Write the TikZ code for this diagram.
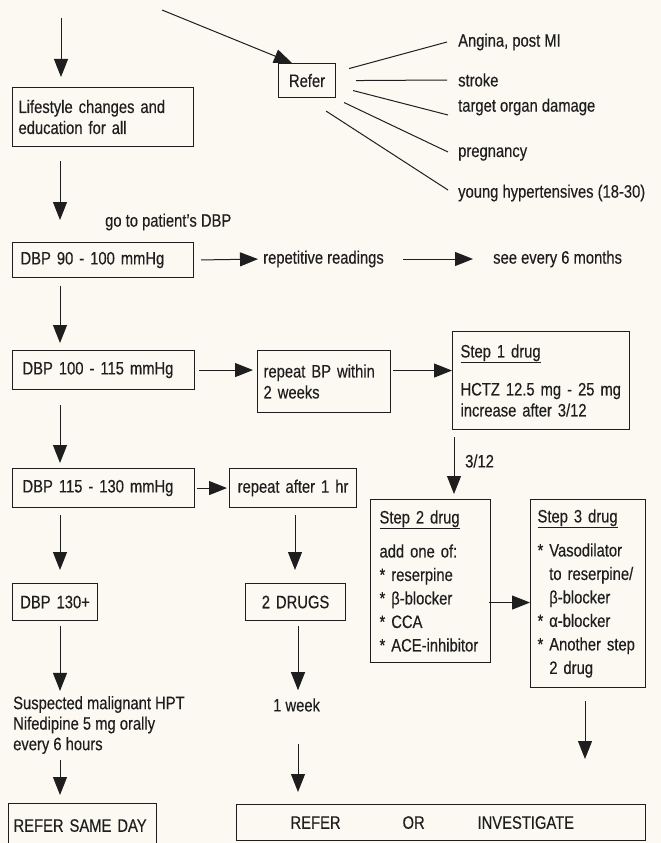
\documentclass[tikz,border=0pt]{standalone}
\usepackage{fontspec}
\setmainfont{Liberation Sans}[FakeStretch=0.82, FakeBold=0.3]
\usetikzlibrary{arrows.meta}
\definecolor{paper}{RGB}{251,249,242}
\definecolor{ink}{RGB}{30,30,30}

\begin{document}
\begin{tikzpicture}[x=1pt, y=-1pt,
        font=\fontsize{18}{21}\selectfont, color=ink,
        box/.style={draw, line width=1.1pt, anchor=north west, inner xsep=8pt, inner ysep=0pt, align=left},
        lbl/.style={anchor=west, inner sep=0pt},
        stepfont/.style={font=\fontsize{18}{23.5}\selectfont},
        arr/.style={-{Triangle[length=18pt,width=14pt]}, line width=1pt},
        spoke/.style={line width=1pt}]

        % page
        \fill[paper] (0,0) rectangle (661,843);
        \useasboundingbox (0,0) rectangle (661,843);

        % loose ends at the top
        \coordinate (in1) at (61,18);
        \coordinate (in2) at (162,10);

        % refer branch
        \node[box, align=center, text width=41pt, minimum height=34pt] (refer) at (278,63) {Refer};
        \node[lbl] (angina) at (458,42) {Angina, post MI};
        \node[lbl] (stroke) at (458,80) {stroke};
        \node[lbl] (organ) at (458,107) {target organ damage};
        \node[lbl] (preg) at (458,154) {pregnancy};
        \node[lbl] (young) at (458,193) {young hypertensives (18-30)};

        % left column
        \node[box, inner xsep=6pt, text width=169pt, minimum height=59pt] (life) at (12,87) {Lifestyle changes and\\education for all};
        \node[lbl] (goto) at (105,222) {go to patient's DBP};
        \node[box, text width=165pt, minimum height=35pt] (dbp1) at (12,242) {DBP 90 - 100 mmHg};
        \node[box, inner xsep=10pt, text width=162pt, minimum height=39pt] (dbp2) at (12,350) {DBP 100 - 115 mmHg};
        \node[box, inner xsep=10pt, text width=162pt, minimum height=39pt] (dbp3) at (12,468) {DBP 115 - 130 mmHg};
        \node[box, align=center, inner xsep=6pt, text width=73pt, minimum height=37pt] (dbp4) at (12,583) {DBP 130+};
        \node[lbl, align=left, font=\fontsize{18}{20.5}\selectfont] (susp) at (13,725) {Suspected malignant HPT\\Nifedipine 5 mg orally\\every 6 hours};
        \node[box, inner xsep=5pt, text width=138pt, minimum height=44pt] (sameday) at (8,803) {REFER SAME DAY};

        % middle column
        \node[lbl] (rep) at (263,259) {repetitive readings};
        \node[lbl] (six) at (493,259) {see every 6 months};
        \node[box, inner xsep=6pt, text width=121pt, minimum height=62pt] (rep2w) at (257,350) {repeat BP within\\2 weeks};
        \node[box, align=center, inner xsep=4pt, text width=119pt, minimum height=39pt] (rep1h) at (229,468) {repeat after 1 hr};
        \node[box, align=center, text width=84pt, minimum height=37pt] (drugs2) at (245,583) {2 DRUGS};
        \node[lbl] (week) at (273,705) {1 week};
        \node[box, text width=393pt, minimum height=36pt] (invest) at (236,804)
            {\hspace*{46pt}\makebox[112pt][l]{REFER}\makebox[75pt][l]{OR}INVESTIGATE};

        % drug steps
        \node[box, text width=161pt, minimum height=98pt] (step1) at (452,331)
            {\underline{Step 1 drug}\\[17pt]HCTZ 12.5 mg - 25 mg\\increase after 3/12};
        \node[lbl] (three) at (465,461) {3/12};
        \node[box, stepfont, inner xsep=9pt, text width=102pt, minimum height=163pt] (step2) at (370,499)
            {\underline{Step 2 drug}\\[10.5pt]add one of:\\{*} reserpine\\{*} β-blocker\\{*} CCA\\{*} ACE-inhibitor};
        \node[box, stepfont, inner xsep=7pt, text width=101pt, minimum height=188pt] (step3) at (530,499)
            {\underline{Step 3 drug}\\[10.5pt]{*} Vasodilator\\\phantom{*} to reserpine/\\\phantom{*} β-blocker\\{*} α-blocker\\{*} Another step\\\phantom{*} 2 drug};

        % top arrows
        \draw[arr, shorten >=10pt] (in1) -- (in1 |- life.north);
        \draw[arr] (in2) -- ([xshift=14pt]refer.north west);

        % refer spokes
        \draw[spoke] ([shift={(13pt,12pt)}]refer.east) -- ([xshift=-11pt]angina.west);
        \draw[spoke] ([xshift=20pt]refer.east) -- ([xshift=-11pt]stroke.west);
        \draw[spoke] ([shift={(17pt,-10pt)}]refer.east) -- ([shift={(-10pt,-8pt)}]organ.west);
        \draw[spoke] ([shift={(8pt,-22pt)}]refer.east) -- ([shift={(-10pt,2pt)}]preg.west);
        \draw[spoke] ([shift={(-10pt,-13pt)}]refer.south east) -- ([shift={(-10pt,3pt)}]young.west);

        % left column arrows
        \draw[arr, shorten <=14pt, shorten >=22pt] ([xshift=48pt]life.south west) -- ([xshift=48pt]dbp1.north west);
        \draw[arr, shorten <=8pt, shorten >=7pt] ([xshift=48pt]dbp1.south west) -- ([xshift=48pt]dbp2.north west);
        \draw[arr, shorten <=15pt, shorten >=5pt] ([xshift=48pt]dbp2.south west) -- ([xshift=48pt]dbp3.north west);
        \draw[arr, shorten <=7pt, shorten >=13pt] ([xshift=48pt]dbp3.south west) -- ([xshift=48pt]dbp4.north west);
        \draw[arr, shorten <=5pt, shorten >=5pt] ([xshift=48pt]dbp4.south west) -- ([xshift=47pt]susp.north west);
        \draw[arr, shorten <=6pt, shorten >=8pt] ([xshift=47pt]susp.south west) -- ([xshift=52pt]sameday.north west);

        % across
        \draw[arr, shorten <=7pt, shorten >=5pt] (dbp1.east) -- (rep.west);
        \draw[arr, shorten <=19pt, shorten >=20pt] (rep.east) -- (six.west);
        \draw[arr, shorten <=4pt, shorten >=4pt] (dbp2.east) -- (dbp2.east -| rep2w.west);
        \draw[arr, shorten <=2pt] ([yshift=11pt]rep2w.east) -- ([yshift=10pt]step1.west);
        \draw[arr, shorten <=2pt, shorten >=2pt] (dbp3.east) -- (rep1h.west);
        \draw[arr, shorten <=-2pt] ([yshift=-21.5pt]step2.east) -- ([yshift=-9pt]step3.west);

        % middle and right arrows
        \draw[arr, shorten <=7pt, shorten >=13pt] ([xshift=66pt]rep1h.south west) -- ([xshift=50pt]drugs2.north west);
        \draw[arr, shorten <=5pt, shorten >=8pt] ([xshift=53pt]drugs2.south west) -- ([xshift=25pt]week.north west);
        \draw[arr, shorten <=32pt, shorten >=12pt] ([xshift=25pt]week.south west) -- ([xshift=62pt]invest.north west);
        \draw[arr, shorten <=7pt, shorten >=5pt] ([xshift=2pt]step1.south west) -- ([xshift=84pt]step2.north west);
        \draw[arr, shorten <=13pt, shorten >=45pt] ([xshift=55pt]step3.south west) -- ([xshift=349pt]invest.north west);
\end{tikzpicture}
\end{document}
